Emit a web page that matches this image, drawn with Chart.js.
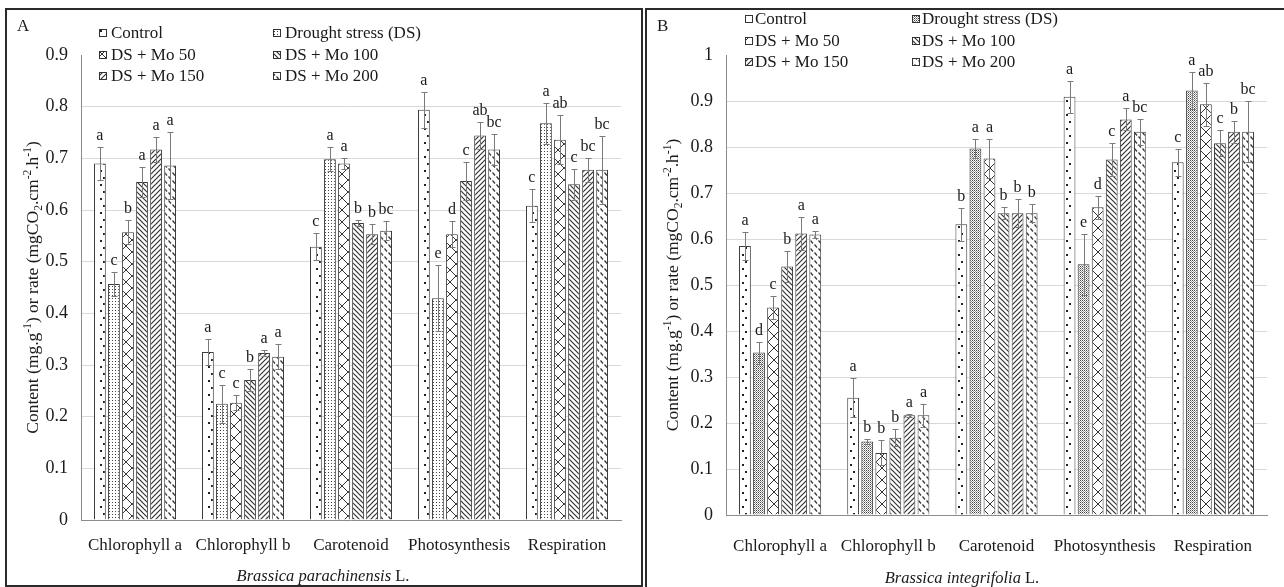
<!DOCTYPE html>
<html>
<head>
<meta charset="utf-8">
<script src="https://cdn.jsdelivr.net/npm/chart.js@4.4.1/dist/chart.umd.min.js"></script>
<style>
body { margin: 0; background: #fff; }
#wrap { position: relative; width: 1284px; height: 587px; overflow: hidden; }
canvas { position: absolute; top: 0; }
#chartA { left: 0; }
#chartB { left: 642px; }
.frame { position: absolute; box-sizing: border-box; border: 2px solid #2b2b2b; pointer-events: none; }
</style>
</head>
<body>
<div id="wrap">
<canvas id="chartA" width="642" height="587"></canvas>
<canvas id="chartB" width="642" height="587"></canvas>
<div class="frame" style="left:5px;top:8px;width:638px;height:579px;"></div>
<div class="frame" style="left:645px;top:8px;width:660px;height:620px;"></div>
</div>
<script>
const categories = ["Chlorophyll a", "Chlorophyll b", "Carotenoid", "Photosynthesis", "Respiration"];
const treatments = ["Control", "Drought stress (DS)", "DS + Mo 50", "DS + Mo 100", "DS + Mo 150", "DS + Mo 200"];

const yLabelsA = ["0", "0.1", "0.2", "0.3", "0.4", "0.5", "0.6", "0.7", "0.8", "0.9"];
const yLabelsB = ["0", "0.1", "0.2", "0.3", "0.4", "0.5", "0.6", "0.7", "0.8", "0.9", "1"];

// Brassica parachinensis (panel A)
const controlA = [0.690, 0.325, 0.529, 0.794, 0.608];
const dsA      = [0.457, 0.225, 0.698, 0.429, 0.768];
const mo50A    = [0.557, 0.227, 0.690, 0.553, 0.736];
const mo100A   = [0.654, 0.271, 0.575, 0.656, 0.650];
const mo150A   = [0.717, 0.323, 0.553, 0.744, 0.678];
const mo200A   = [0.686, 0.316, 0.560, 0.717, 0.678];

const controlErrA = [0.032, 0.025, 0.026, 0.035, 0.032];
const dsErrA      = [0.023, 0.037, 0.023, 0.064, 0.040];
const mo50ErrA    = [0.023, 0.015, 0.011, 0.025, 0.047];
const mo100ErrA   = [0.029, 0.021, 0.005, 0.037, 0.030];
const mo150ErrA   = [0.025, 0.006, 0.019, 0.026, 0.023];
const mo200ErrA   = [0.065, 0.024, 0.019, 0.030, 0.066];

const controlLetA = ["a", "a", "c", "a", "c"];
const dsLetA      = ["c", "c", "a", "e", "a"];
const mo50LetA    = ["b", "c", "a", "d", "ab"];
const mo100LetA   = ["a", "b", "b", "c", "c"];
const mo150LetA   = ["a", "a", "b", "ab", "bc"];
const mo200LetA   = ["a", "a", "bc", "bc", "bc"];

// Brassica integrifolia (panel B)
const controlB = [0.585, 0.255, 0.632, 0.909, 0.767];
const dsB      = [0.353, 0.160, 0.797, 0.545, 0.923];
const mo50B    = [0.451, 0.135, 0.775, 0.669, 0.893];
const mo100B   = [0.540, 0.168, 0.656, 0.773, 0.808];
const mo150B   = [0.612, 0.217, 0.656, 0.860, 0.833];
const mo200B   = [0.610, 0.217, 0.656, 0.833, 0.833];

const controlErrB = [0.031, 0.042, 0.036, 0.035, 0.029];
const dsErrB      = [0.024, 0.006, 0.020, 0.066, 0.041];
const mo50ErrB    = [0.025, 0.027, 0.042, 0.025, 0.047];
const mo100ErrB   = [0.034, 0.018, 0.013, 0.036, 0.028];
const mo150ErrB   = [0.036, 0.003, 0.030, 0.024, 0.024];
const mo200ErrB   = [0.008, 0.025, 0.020, 0.028, 0.066];

const controlLetB = ["a", "a", "b", "a", "c"];
const dsLetB      = ["d", "b", "a", "e", "a"];
const mo50LetB    = ["c", "b", "a", "d", "ab"];
const mo100LetB   = ["b", "b", "b", "c", "c"];
const mo150LetB   = ["a", "a", "b", "a", "b"];
const mo200LetB   = ["a", "a", "b", "bc", "bc"];

const yTitleParts = [["Content (mg.g", 0], ["-1", 1], [") or rate (mgCO", 0], ["2", -1], [".cm", 0], ["-2", 1], [".h", 0], ["-1", 1], [")", 0]];

const SERIF = '"Liberation Serif", "Times New Roman", serif';
Chart.defaults.font.family = SERIF;
Chart.defaults.color = "#1a1a1a";

function makePattern(kind) {
    const sizes = { dots: [12, 14], fine: [3, 3], dense: [2, 2], cross: [12, 12], back: [5, 5], fwd: [5, 5], dash: [8, 8] };
    const [w, h] = sizes[kind];
    const c = document.createElement("canvas");
    c.width = w;
    c.height = h;
    const g = c.getContext("2d");
    g.fillStyle = "#fff";
    g.fillRect(0, 0, w, h);
    g.strokeStyle = "#333";
    g.fillStyle = "#222";
    g.lineWidth = 1;
    const line = (x0, y0, x1, y1) => { g.beginPath(); g.moveTo(x0, y0); g.lineTo(x1, y1); g.stroke(); };
    if (kind === "dots") {
        g.fillRect(4, 2, 2, 2);
        g.fillRect(7, 9, 2, 2);
    } else if (kind === "fine") {
        g.fillStyle = "#444";
        g.fillRect(1, 1, 1, 1);
    } else if (kind === "dense") {
        g.fillStyle = "#444";
        g.fillRect(0, 0, 1, 1);
        g.fillStyle = "#999";
        g.fillRect(1, 1, 1, 1);
    } else if (kind === "cross") {
        line(0, 0, 12, 12);
        line(0, 12, 12, 0);
    } else if (kind === "back") {
        g.lineWidth = 1.2;
        line(-1, -1, 6, 6); line(-1, 4, 1, 6); line(4, -1, 6, 1);
    } else if (kind === "fwd") {
        g.lineWidth = 1.2;
        line(-1, 6, 6, -1); line(-1, 1, 1, -1); line(4, 6, 6, 4);
    } else if (kind === "dash") {
        g.lineWidth = 1.2;
        line(0.5, 0.5, 3, 3.5);
        line(4.5, 4.5, 7, 7.5);
    }
    return g.createPattern(c, "repeat");
}

function drawYTitle(ctx, cx, cy) {
    const size = (s) => (s ? 11.5 : 17.5) + "px " + SERIF;
    let total = 0;
    yTitleParts.forEach(([t, s]) => { ctx.font = size(s); total += ctx.measureText(t).width; });
    ctx.save();
    ctx.translate(cx, cy);
    ctx.rotate(-Math.PI / 2);
    ctx.fillStyle = "#1a1a1a";
    ctx.textAlign = "left";
    ctx.textBaseline = "alphabetic";
    let x = -total / 2;
    yTitleParts.forEach(([t, s]) => {
        ctx.font = size(s);
        const dy = s === 1 ? -7 : (s === -1 ? 4 : 0);
        ctx.fillText(t, x, 6 + dy);
        x += ctx.measureText(t).width;
    });
    ctx.restore();
}

function extrasPlugin(p, fills) {
    return {
        id: "extras",
        afterDatasetsDraw(chart) {
            const ctx = chart.ctx;
            const ys = chart.scales.y;
            ctx.save();
            // error bars
            ctx.strokeStyle = "#7a7a7a";
            ctx.lineWidth = 1;
            p.values.forEach((vals, i) => {
                chart.getDatasetMeta(i).data.forEach((bar, j) => {
                    const x = Math.round(bar.x) + 0.5;
                    const top = Math.round(ys.getPixelForValue(vals[j] + p.errors[i][j])) + 0.5;
                    const bot = Math.round(ys.getPixelForValue(vals[j] - p.errors[i][j])) + 0.5;
                    ctx.beginPath();
                    ctx.moveTo(x, bot); ctx.lineTo(x, top);
                    ctx.moveTo(x - 3, top); ctx.lineTo(x + 3, top);
                    ctx.moveTo(x - 3, bot); ctx.lineTo(x + 3, bot);
                    ctx.stroke();
                });
            });
            // significance letters
            ctx.fillStyle = "#1a1a1a";
            ctx.font = "16px " + SERIF;
            ctx.textAlign = "center";
            ctx.textBaseline = "alphabetic";
            p.values.forEach((vals, i) => {
                chart.getDatasetMeta(i).data.forEach((bar, j) => {
                    const top = ys.getPixelForValue(vals[j] + p.errors[i][j]);
                    ctx.fillText(p.letters[i][j], bar.x, top - 7);
                });
            });
            ctx.restore();
        },
        afterDraw(chart) {
            const ctx = chart.ctx;
            const area = chart.chartArea;
            ctx.save();
            // legend
            ctx.font = "17px " + SERIF;
            ctx.textAlign = "left";
            ctx.textBaseline = "middle";
            treatments.forEach((name, i) => {
                const x = p.legendX[i % 2];
                const y = p.legendY[Math.floor(i / 2)];
                ctx.fillStyle = fills[i];
                ctx.fillRect(x, y - 4, 8, 8);
                ctx.strokeStyle = "#333";
                ctx.lineWidth = 1;
                ctx.strokeRect(x + 0.5, y - 3.5, 7, 7);
                ctx.fillStyle = "#1a1a1a";
                ctx.fillText(name, x + p.legendGap, y + 1);
            });
            // panel letter
            ctx.font = "17px " + SERIF;
            ctx.fillText(p.panel, p.panelX, 27);
            // species subtitle
            ctx.font = "italic 16.5px " + SERIF;
            const w1 = ctx.measureText(p.species).width;
            ctx.font = "16.5px " + SERIF;
            const w2 = ctx.measureText(" L.").width;
            const sx = p.subX - (w1 + w2) / 2;
            ctx.font = "italic 16.5px " + SERIF;
            ctx.fillText(p.species, sx, p.subY);
            ctx.font = "16.5px " + SERIF;
            ctx.fillText(" L.", sx + w1, p.subY);
            // y axis title
            drawYTitle(ctx, p.titleX, (area.top + area.bottom) / 2);
            ctx.restore();
        }
    };
}

function buildChart(id, p) {
    const ctx = document.getElementById(id).getContext("2d");
    const fills = p.patterns.map(makePattern);
    const datasets = treatments.map((name, i) => ({
        label: name,
        data: p.values[i],
        backgroundColor: fills[i],
        borderColor: "#3c3c3c",
        borderWidth: 1,
        categoryPercentage: 0.78,
        barPercentage: 0.84
    }));
    return new Chart(ctx, {
        type: "bar",
        data: { labels: categories, datasets: datasets },
        options: {
            responsive: false,
            animation: false,
            layout: { padding: { left: 0, right: p.padRight, top: 55, bottom: 0 } },
            plugins: { legend: { display: false }, tooltip: { enabled: false } },
            scales: {
                x: {
                    grid: { display: false, drawTicks: false },
                    border: { color: "#8c8c8c" },
                    ticks: { font: { size: 17 }, color: "#1a1a1a", padding: p.xPad, maxRotation: 0, autoSkip: false },
                    afterFit: (s) => { s.height = p.xHeight; }
                },
                y: {
                    min: 0,
                    max: p.yMax,
                    ticks: {
                        stepSize: 0.1,
                        padding: 13,
                        font: { size: 18 },
                        color: "#1a1a1a",
                        callback: (v, i) => p.yLabels[i]
                    },
                    grid: {
                        drawTicks: false,
                        color: (c) => (c.tick && c.tick.value > p.yMax - 0.001 ? "rgba(0,0,0,0)" : "#d9d9d9")
                    },
                    border: { color: "#8c8c8c" },
                    afterFit: (s) => { s.width = p.yWidth; }
                }
            }
        },
        plugins: [extrasPlugin(p, fills)]
    });
}

buildChart("chartA", {
    values: [controlA, dsA, mo50A, mo100A, mo150A, mo200A],
    errors: [controlErrA, dsErrA, mo50ErrA, mo100ErrA, mo150ErrA, mo200ErrA],
    letters: [controlLetA, dsLetA, mo50LetA, mo100LetA, mo150LetA, mo200LetA],
    patterns: ["dots", "fine", "cross", "back", "fwd", "dash"],
    yMax: 0.9,
    yLabels: yLabelsA,
    yWidth: 81,
    padRight: 21,
    xHeight: 67,
    xPad: 15,
    legendX: [99, 273],
    legendY: [33, 55, 76],
    legendGap: 12,
    panel: "A",
    panelX: 17,
    species: "Brassica parachinensis",
    subX: 323,
    subY: 577,
    titleX: 32
});

buildChart("chartB", {
    values: [controlB, dsB, mo50B, mo100B, mo150B, mo200B],
    errors: [controlErrB, dsErrB, mo50ErrB, mo100ErrB, mo150ErrB, mo200ErrB],
    letters: [controlLetB, dsLetB, mo50LetB, mo100LetB, mo150LetB, mo200LetB],
    patterns: ["dots", "dense", "cross", "back", "fwd", "dash"],
    yMax: 1,
    yLabels: yLabelsB,
    yWidth: 84,
    padRight: 17,
    xHeight: 72,
    xPad: 21,
    legendX: [103, 270],
    legendY: [19, 41, 62],
    legendGap: 10,
    panel: "B",
    panelX: 15,
    species: "Brassica integrifolia",
    subX: 320,
    subY: 579,
    titleX: 30
});
</script>
</body>
</html>
